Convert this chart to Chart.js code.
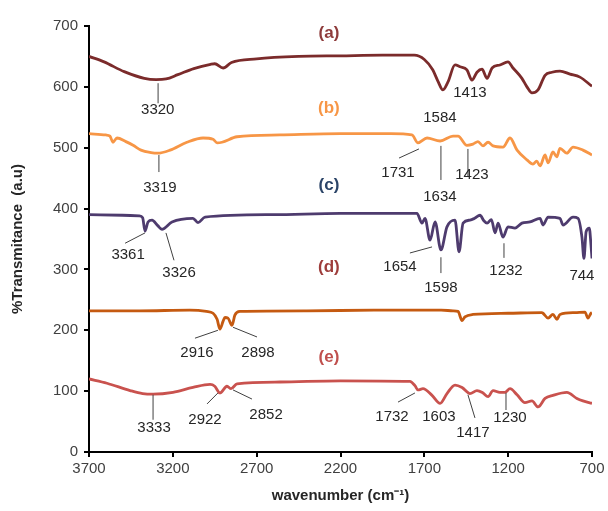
<!DOCTYPE html>
<html>
<head>
<meta charset="utf-8">
<script src="https://cdn.jsdelivr.net/npm/chart.js@4"></script>
<style>
  html, body { margin: 0; padding: 0; background: #fff; }
  #wrap { width: 608px; height: 511px; }
</style>
</head>
<body>
<div id="wrap"><canvas id="chart" width="608" height="511"></canvas></div>
<script>
// wavenumbers (cm-1) and %T for each spectrum
const waveA = [3700,3610,3490,3370,3300,3240,3170,3075,2975,2950,2900,2850,2700,2450,2200,1950,1760,1700,1650,1620,1589,1559,1517,1487,1446,1416,1386,1356,1326,1296,1249,1201,1171,1118,1088,1058,1022,980,939,891,831,772,700];
const transA = [650,641,625,614,612,613,620,630,637,638,631,640,646,650,651,652,652,645,628,610,595,608,636,633,628,611,624,629,614,631,636,641,631,614,600,590,595,619,624,626,621,616,601];

const waveB = [3700,3600,3575,3557,3533,3480,3437,3390,3330,3290,3217,3116,3020,2960,2936,2907,2817,2561,2200,1900,1774,1738,1684,1606,1529,1499,1446,1410,1380,1350,1320,1290,1231,1189,1147,1088,1052,1030,1010,980,962,933,910,891,850,813,754,700];
const transB = [523,521,519,509,516,510,504,496,492,491,496,509,516,514,508,509,518,521,523,523,521,508,516,511,519,519,504,506,510,503,509,503,501,516,496,480,473,478,470,488,475,493,485,499,491,501,496,488];

const waveC = [3700,3500,3400,3380,3366,3348,3324,3290,3265,3205,3080,3050,3008,2600,2200,1744,1714,1696,1666,1636,1601,1565,1517,1493,1469,1428,1400,1368,1345,1326,1300,1278,1260,1231,1201,1159,1118,1070,1010,992,962,891,873,813,783,760,748,735,716,706,700];
const transC = [390,389,388,385,363,378,381,372,366,378,384,377,386,390,392,392,376,384,348,378,332,370,381,329,376,381,384,389,380,376,382,360,376,353,370,368,376,378,384,373,386,384,373,386,384,353,318,362,368,340,318];

const waveD = [3700,3400,3100,3000,2960,2936,2919,2900,2889,2871,2847,2830,2800,2400,2000,1600,1529,1499,1475,1458,1410,1200,1000,992,962,933,909,891,800,742,724,706,700];
const transD = [232,232,233,231,228,218,202,215,221,220,208,225,231,232,233,233,232,231,216,222,226,228,229,228,220,226,218,226,229,230,220,228,229];

const waveE = [3700,3593,3455,3380,3318,3199,3080,2978,2950,2919,2877,2853,2817,2561,2200,1786,1756,1738,1708,1654,1606,1565,1517,1475,1428,1386,1350,1320,1290,1249,1219,1189,1147,1100,1058,1022,980,933,850,790,754,700];
const transE = [120,113,101,96,95,98,106,111,108,97,108,104,112,115,117,116,109,102,104,93,80,96,110,106,96,101,97,91,101,98,98,104,94,81,84,74,88,93,98,88,84,80];

const seriesNames = ['(a)', '(b)', '(c)', '(d)', '(e)'];
const xTicks = [3700, 3200, 2700, 2200, 1700, 1200, 700];
const yTicks = [0, 100, 200, 300, 400, 500, 600, 700];

// peak labels: text, where the text sits, optional leader line (all in data units)
const peakLabels = [
  { t: '3320', x: 3290, y: 562, line: [3288, 606, 3288, 573] },
  { t: '3319', x: 3277, y: 434, line: [3283, 488, 3283, 460] },
  { t: '1413', x: 1428, y: 590 },
  { t: '1584', x: 1607, y: 549 },
  { t: '1634', x: 1607, y: 419, line: [1601, 503, 1601, 447] },
  { t: '1731', x: 1857, y: 458, line: [1732, 498, 1851, 483] },
  { t: '1423', x: 1416, y: 455, line: [1440, 498, 1440, 452] },
  { t: '3361', x: 3467, y: 324, line: [3366, 360, 3485, 343] },
  { t: '3326', x: 3163, y: 294, line: [3241, 360, 3193, 315] },
  { t: '1654', x: 1845, y: 304, line: [1654, 337, 1786, 327] },
  { t: '1598', x: 1601, y: 269, line: [1601, 320, 1601, 294] },
  { t: '1232', x: 1213, y: 297, line: [1225, 343, 1225, 319] },
  { t: '744', x: 760, y: 289 },
  { t: '2916', x: 3056, y: 163, line: [2931, 200, 3068, 187] },
  { t: '2898', x: 2692, y: 163, line: [2841, 205, 2698, 189] },
  { t: '3333', x: 3312, y: 39, line: [3318, 94, 3318, 53] },
  { t: '2922', x: 3008, y: 53, line: [2931, 97, 2996, 79] },
  { t: '2852', x: 2644, y: 61, line: [2841, 102, 2728, 87] },
  { t: '1732', x: 1893, y: 58, line: [1756, 97, 1857, 82] },
  { t: '1603', x: 1613, y: 58 },
  { t: '1417', x: 1410, y: 31, line: [1440, 94, 1398, 56] },
  { t: '1230', x: 1189, y: 56, line: [1213, 97, 1213, 69] }
];
const namePos = [[2269, 688], [2269, 564], [2269, 439], [2269, 304], [2269, 156]];

const lineColors = ['#7B2B2B', '#F79646', '#4E3B6E', '#C55A11', '#C9524E'];
const nameColors = ['#8E3B3B', '#F79646', '#2B4468', '#9E3D3B', '#C0504D'];

function pts(w, v) { return w.map((x, i) => ({ x: x, y: v[i] })); }
const waves = [waveA, waveB, waveC, waveD, waveE];
const trans = [transA, transB, transC, transD, transE];

const FONT = "'Liberation Sans', Arial, sans-serif";

const labelPlugin = {
  id: 'peakLabels',
  afterDatasetsDraw(chart) {
    const ctx = chart.ctx, xs = chart.scales.x, ys = chart.scales.y;
    ctx.save();
    ctx.strokeStyle = '#404040';
    ctx.lineWidth = 1;
    ctx.fillStyle = '#262626';
    ctx.font = '15px ' + FONT;
    ctx.textAlign = 'center';
    ctx.textBaseline = 'middle';
    peakLabels.forEach(p => {
      if (p.line) {
        ctx.beginPath();
        ctx.moveTo(xs.getPixelForValue(p.line[0]), ys.getPixelForValue(p.line[1]));
        ctx.lineTo(xs.getPixelForValue(p.line[2]), ys.getPixelForValue(p.line[3]));
        ctx.stroke();
      }
      ctx.fillText(p.t, xs.getPixelForValue(p.x), ys.getPixelForValue(p.y));
    });
    ctx.font = 'bold 17px ' + FONT;
    seriesNames.forEach((n, i) => {
      ctx.fillStyle = nameColors[i];
      ctx.fillText(n, xs.getPixelForValue(namePos[i][0]), ys.getPixelForValue(namePos[i][1]));
    });
    ctx.restore();
  }
};

new Chart(document.getElementById('chart').getContext('2d'), {
  type: 'line',
  data: {
    datasets: seriesNames.map((n, i) => ({
      label: n,
      data: pts(waves[i], trans[i]),
      borderColor: lineColors[i],
      borderWidth: 2.8,
      pointRadius: 0,
      cubicInterpolationMode: 'monotone',
      fill: false
    }))
  },
  options: {
    responsive: false,
    animation: false,
    layout: { padding: { left: 0, right: 16, top: 26, bottom: 0 } },
    plugins: { legend: { display: false }, tooltip: { enabled: false } },
    scales: {
      x: {
        type: 'linear',
        reverse: true,
        min: 700,
        max: 3700,
        afterBuildTicks: s => { s.ticks = xTicks.map(v => ({ value: v })); },
        afterFit: s => { s.height = 59; },
        border: { color: '#000', width: 2 },
        grid: { drawOnChartArea: false, color: '#000', lineWidth: 2, tickLength: 5 },
        ticks: { color: '#404040', font: { family: FONT, size: 15 }, padding: 3, maxRotation: 0,
                 callback: v => String(v) },
        title: {
          display: true, text: 'wavenumber (cm\u207B\u00B9)', color: '#262626',
          font: { family: FONT, size: 15, weight: 'bold' }, padding: { top: 6, bottom: 6 }
        }
      },
      y: {
        min: 0,
        max: 700,
        afterBuildTicks: s => { s.ticks = yTicks.map(v => ({ value: v })); },
        afterFit: s => { s.width = 89; },
        border: { color: '#000', width: 2 },
        grid: { drawOnChartArea: false, color: '#000', lineWidth: 2, tickLength: 5 },
        ticks: { color: '#404040', font: { family: FONT, size: 15 }, padding: 6,
                 callback: v => String(v) },
        title: {
          display: true, text: '%Transmitance  (a.u)', color: '#262626',
          font: { family: FONT, size: 15, weight: 'bold' }, padding: { top: 9, bottom: 0 }
        }
      }
    }
  },
  plugins: [labelPlugin]
});
</script>
</body>
</html>
